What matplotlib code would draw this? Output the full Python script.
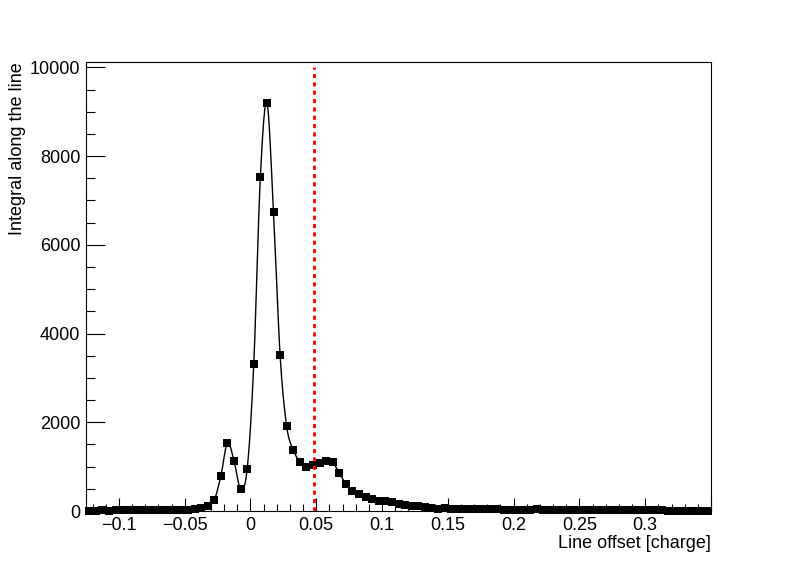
import matplotlib
matplotlib.use("Agg")
import matplotlib.pyplot as plt
from matplotlib.ticker import MultipleLocator
import numpy as np

plt.rcParams['font.family'] = ['Liberation Sans', 'DejaVu Sans']

# bin centres: -0.1225 ... 0.3475, step 0.005
offset = np.round(np.arange(-25, 70) * 0.005 + 0.0025, 4)

integral = [
    # -0.1225 .. -0.0475
    10, 8, 12, 10, 12, 15, 12, 15, 18, 15, 20, 25, 20, 25, 30, 30,
    # -0.0425 .. -0.0025
    35, 60, 110, 250, 790, 1540, 1130, 500, 950,
    # 0.0025 .. 0.0475
    3310, 7520, 9200, 6750, 3520, 1910, 1380, 1110, 1000, 1040,
    # 0.0525 .. 0.0975
    1075, 1130, 1095, 850, 605, 455, 390, 325, 270, 232,
    # 0.1025 .. 0.1475
    218, 196, 165, 135, 120, 105, 90, 75, 55, 60,
    # 0.1525 .. 0.1975
    50, 45, 45, 40, 40, 38, 35, 35, 32, 30,
    # 0.2025 .. 0.2225
    20, 15, 15, 40, 25,
    # 0.2275 .. 0.3475
    25, 25, 22, 22, 20, 20, 20, 18, 18, 18, 15, 15, 15, 15, 12,
    12, 12, 12, 10, 10, 10, 10, 10, 10, 10,
]

cut = 0.048
x_range = (-0.125, 0.35)
y_range = (0, 10120)


def catmull_rom(x, y, n=12):
    # smooth curve through the points, like ROOT's "C" option
    x = np.asarray(x, float)
    y = np.asarray(y, float)
    px = np.concatenate([[2 * x[0] - x[1]], x, [2 * x[-1] - x[-2]]])
    py = np.concatenate([[2 * y[0] - y[1]], y, [2 * y[-1] - y[-2]]])
    t = np.linspace(0, 1, n, endpoint=False)
    xs, ys = [], []
    for i in range(1, len(px) - 2):
        for p, out in ((px, xs), (py, ys)):
            p0, p1, p2, p3 = p[i - 1], p[i], p[i + 1], p[i + 2]
            out.append(0.5 * ((2 * p1) + (-p0 + p2) * t
                              + (2 * p0 - 5 * p1 + 4 * p2 - p3) * t ** 2
                              + (-p0 + 3 * p1 - 3 * p2 + p3) * t ** 3))
    xs.append([x[-1]])
    ys.append([y[-1]])
    return np.concatenate(xs), np.concatenate(ys)


def xfmt(v, pos):
    if v > 0.34:
        return ''
    return ('%g' % round(v, 3)).replace('-', '\u2212')


fig = plt.figure(figsize=(7.98, 5.74), dpi=100)
ax = fig.add_axes([86 / 798, 1 - 511 / 574, (711 - 86) / 798, (511 - 62) / 574])

cx, cy = catmull_rom(offset, integral)
ax.plot(cx, cy, color='black', lw=1.0, clip_on=True)
ax.plot(offset, integral, 's', color='black', ms=5.3, mew=0, clip_on=False)

ax.vlines(cut, 0, 10000, colors='red', lw=2, linestyles=(0, (1.5, 1.5)))

ax.set_xlim(*x_range)
ax.set_ylim(*y_range)

ax.xaxis.set_major_locator(MultipleLocator(0.05))
ax.xaxis.set_minor_locator(MultipleLocator(0.01))
ax.yaxis.set_major_locator(MultipleLocator(2000))
ax.yaxis.set_minor_locator(MultipleLocator(500))
ax.xaxis.set_major_formatter(plt.FuncFormatter(xfmt))

ax.tick_params(axis='x', which='major', direction='in', length=9.7, width=0.8,
               labelsize=13, pad=4)
ax.tick_params(axis='x', which='minor', direction='in', length=4.8, width=0.8)
ax.tick_params(axis='y', which='major', direction='in', length=13.5, width=0.8,
               labelsize=13, pad=4)
ax.tick_params(axis='y', which='minor', direction='in', length=6.7, width=0.8)
for s in ax.spines.values():
    s.set_linewidth(0.8)

fig.text(18 / 798, 1 - 62 / 574, 'Integral along the line', rotation=90,
         ha='center', va='top', fontsize=13)
fig.text(711 / 798, 1 - 543 / 574, 'Line offset [charge]', ha='right',
         va='center', fontsize=13)

fig.savefig('out.png', dpi=100)
